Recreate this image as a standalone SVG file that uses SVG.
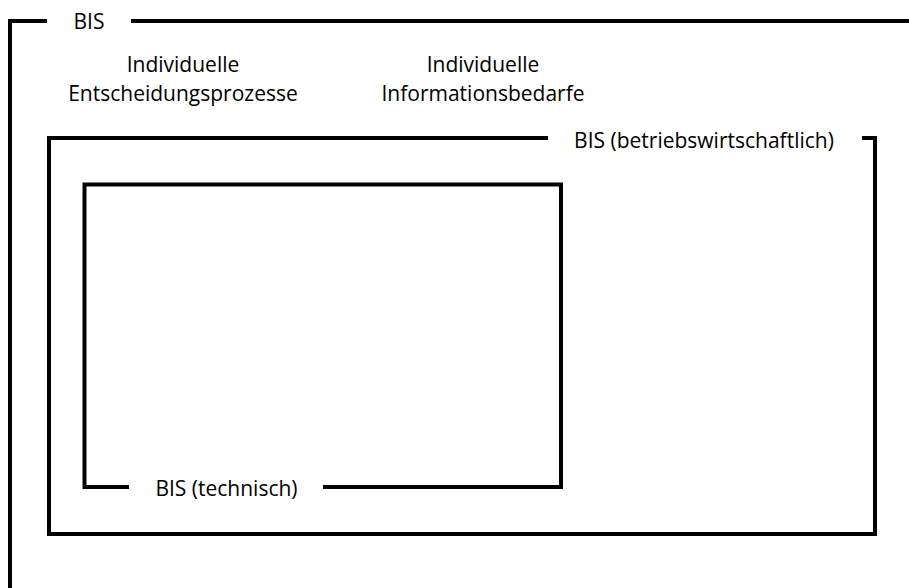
<svg xmlns="http://www.w3.org/2000/svg" width="909" height="588" viewBox="0 0 909 588">
<style>
.frame{fill:none;stroke:#000;stroke-width:4;stroke-linejoin:miter;stroke-linecap:butt}
.lbl{font-family:"Open Sans","Liberation Sans",sans-serif;font-size:21px;fill:#000}
.c{text-anchor:middle}
</style>
<rect width="909" height="588" fill="#fff"/>
<g id="bis-outer">
<path class="frame" d="M10 588 V21 H47 M131 21 H909"/>
<text class="lbl c" x="89" y="28.5">BIS</text>
<text class="lbl c" x="183" y="72">Individuelle</text>
<text class="lbl c" x="183" y="101">Entscheidungsprozesse</text>
<text class="lbl c" x="483" y="72">Individuelle</text>
<text class="lbl c" x="483" y="101">Informationsbedarfe</text>
</g>
<g id="bis-betriebswirtschaftlich">
<path class="frame" d="M548 138 H49 V534 H875 V138 H862"/>
<text class="lbl c" x="704" y="148">BIS (betriebswirtschaftlich)</text>
</g>
<g id="bis-technisch">
<path class="frame" d="M129 487 H84.5 V184.5 H561 V487 H323"/>
<text class="lbl c" x="226.5" y="496">BIS (technisch)</text>
</g>
<g id="connectors"></g>
</svg>
